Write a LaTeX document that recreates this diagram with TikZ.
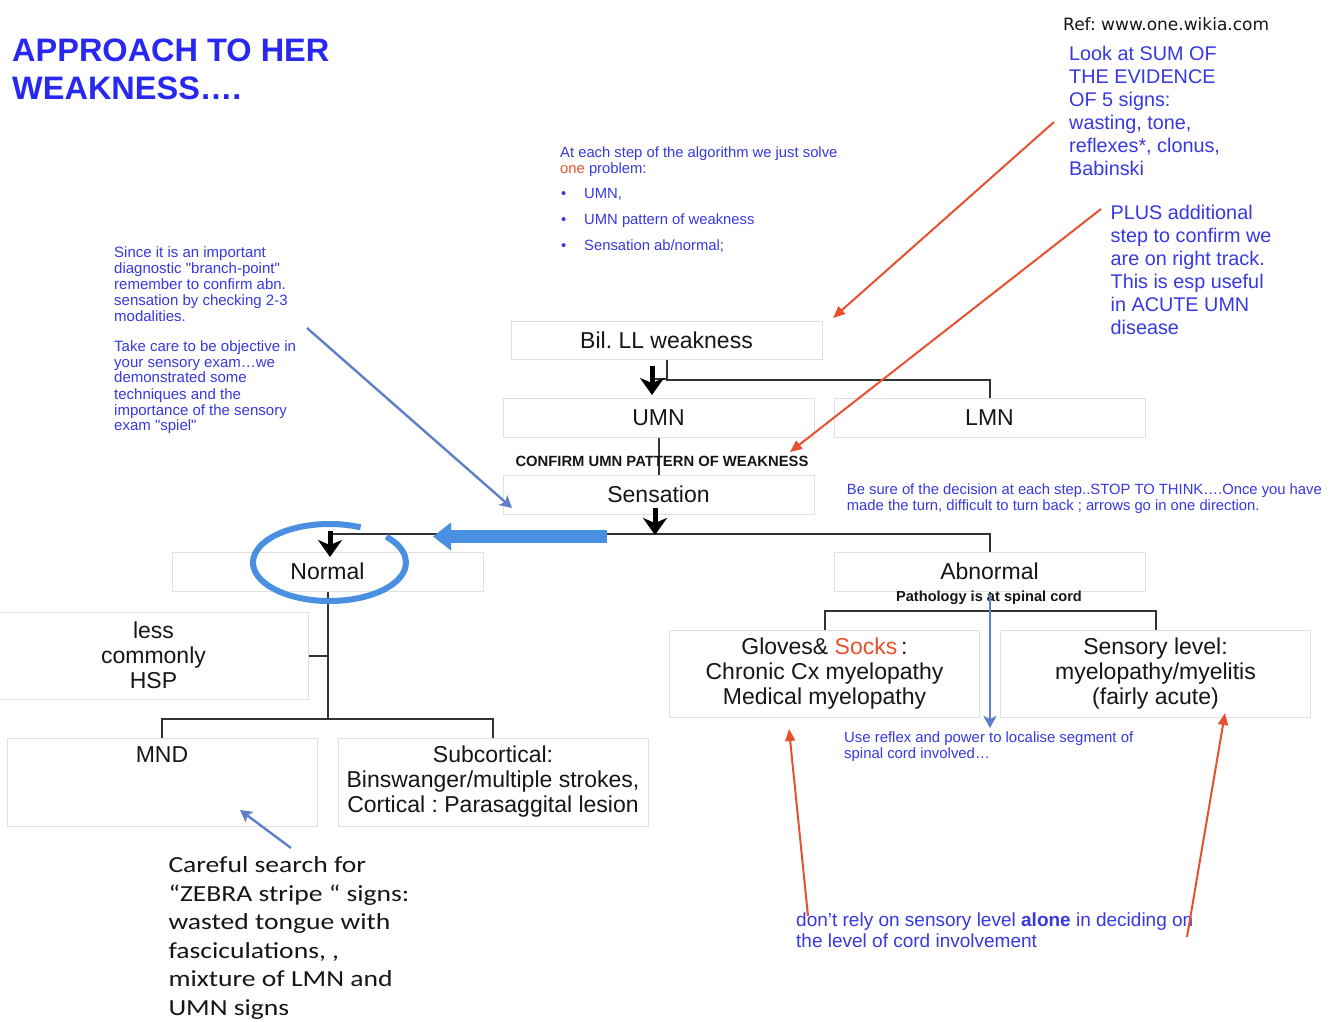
\documentclass[tikz,border=0pt]{standalone}
\usepackage{fontspec}
\setmainfont{Liberation Sans}
\newfontfamily\dejavu{DejaVu Sans}
\newfontfamily\carl[FakeStretch=1.2]{Carlito}
\usetikzlibrary{arrows.meta}
\definecolor{titleblue}{HTML}{2828F0}
\definecolor{noteblue}{HTML}{3838E2}
\definecolor{redc}{HTML}{E8512F}
\definecolor{steel}{HTML}{5F80C8}
\definecolor{bright}{HTML}{4A90E2}
\definecolor{boxgray}{HTML}{E0E0E0}
\definecolor{linec}{HTML}{333333}
\definecolor{ink}{HTML}{161616}
\newcommand\fs[2]{\fontsize{#1}{#2}\selectfont}
\newcommand\vl[2]{\vtop{\baselineskip=#1\relax\lineskip=0pt\lineskiplimit=-50pt\halign{##\hfil\cr#2\crcr}}}
\newcommand\bul{\hbox to 24pt{\hskip1pt•\hfil}}
\frenchspacing
\begin{document}
\begin{tikzpicture}[x=1pt,y=-1pt,
  box/.style={draw=boxgray, line width=1pt, rectangle, inner sep=0pt, align=center, font=\fs{23}{25}, text=ink},
  conn/.style={draw=linec, line width=2pt},
  bigdown/.style={draw=black, line width=5pt, -{Stealth[length=17pt,width=24pt,inset=5pt]}},
  redarr/.style={draw=redc, line width=2pt, -{Triangle[length=12pt,width=10pt]}},
  steelarr/.style={draw=steel, line width=2.4pt, -{Stealth[length=12pt,width=13pt,inset=3pt]}},
  txt/.style={inner sep=0pt, anchor=base west},
]
\useasboundingbox (0,0) rectangle (1334,1022);
\fill[white] (0,0) rectangle (1334,1022);

% boxes
\node[box, minimum width=311pt, minimum height=38pt] (bil) at (666.5,340) {Bil. LL weakness};
\node[box, minimum width=311pt, minimum height=39pt] (umn) at (658.5,417.5) {UMN};
\node[box, minimum width=311pt, minimum height=39pt] (lmn) at (989.5,417.5) {LMN};
\node[box, minimum width=311pt, minimum height=39pt] (sens) at (658.5,494.5) {Sensation};
\node[box, minimum width=311pt, minimum height=39pt] (norm) at (327.5,571.5) {Normal};
\node[box, minimum width=311pt, minimum height=39pt] (abn) at (989.5,571.5) {Abnormal};
\node[box, minimum width=309pt, minimum height=87pt] (hsp) at (153.5,655.5) {less\\commonly\\HSP};
\node[box, minimum width=310pt, minimum height=88pt] (mnd) at (162,782) {};
\node[box, minimum width=310pt, minimum height=88pt] (sub) at (493,782) {Subcortical:\\Binswanger/multiple strokes,\\Cortical : Parasaggital lesion};
\node[box, minimum width=310pt, minimum height=87pt] (glove) at (824.5,673.5) {Gloves\& \textcolor{redc}{Socks}\,:\\Chronic Cx myelopathy\\Medical myelopathy};
\node[box, minimum width=310pt, minimum height=87pt] (slevel) at (1155.5,673.5) {Sensory level:\\myelopathy/myelitis\\(fairly acute)};
\node[font=\fs{23}{25}, text=ink, inner sep=0pt] (mndt) at (162,755) {MND};

% connectors
\draw[conn] (bil.south) -- ++(0,20) -| (lmn.north);
\coordinate (j1) at (652,379);
\draw[conn] (j1) -- (bil.south |- j1);
\coordinate (a1s) at (652,366);
\coordinate (a1e) at (652,395);
\draw[bigdown] (a1s) -- (a1e);
\draw[conn] (umn.south) -- (sens.north);
\coordinate (hj) at (330,534);
\draw[conn] (hj) -| (abn.north);
\coordinate (a2s) at (655,508);
\coordinate (a2e) at (655,535);
\draw[bigdown] (a2s) -- (a2e);
\coordinate (a3s) at (330,531);
\coordinate (a3e) at (330,557);
\draw[bigdown] (a3s) -- (a3e);
\draw[conn] (norm.south) -- ++(0,128);
\draw[conn] (hsp.east) -- (hsp.east -| norm.south);
\draw[conn] (mnd.north) -- ++(0,-19) -| (sub.north);
\draw[conn] (abn.south) -- ++(0,19.5);
\draw[conn] (glove.north) -- ++(0,-18.5) -| (slevel.north);

% blue highlight ellipse and arrow
\coordinate (ellc) at (329.5,562.5);
\draw[bright, line width=6pt] (ellc) ++(-66:76.5 and 38.5) arc[start angle=-66, end angle=-402, x radius=76.5, y radius=38.5];
\coordinate (ba1) at (607,536.5);
\coordinate (ba2) at (433,536.5);
\draw[bright, line width=13pt, -{Triangle[length=18pt,width=27pt]}] (ba1) -- (ba2);

% texts
\node[txt, font=\bfseries\fs{32.5}{38}, text=titleblue] (title) at (12,62) {\vl{38pt}{APPROACH TO HER\cr WEAKNESS….}};
\node[txt, font=\dejavu\fs{17}{20}, text=ink] (ref) at (1063,30.5) {Ref: www.one.wikia.com};
\node[txt, font=\fs{19.8}{23}, text=noteblue] (note1) at (1069,60.7) {\vl{22.9pt}{Look at SUM OF\cr THE EVIDENCE\cr OF 5 signs:\cr wasting, tone,\cr reflexes*, clonus,\cr Babinski}};
\node[txt, font=\fs{19.8}{23}, text=noteblue] (note2) at (1110.5,219.3) {\vl{23.1pt}{PLUS additional\cr step to confirm we\cr are on right track.\cr This is esp useful\cr in ACUTE UMN\cr disease}};
\node[txt, font=\fs{14.8}{16}, text=noteblue] (topnote) at (560,157.3) {\vl{16pt}{At each step of the algorithm we just solve\cr \textcolor{redc}{one} problem:\cr\noalign{\vskip9pt}\bul UMN,\cr\noalign{\vskip10pt}\bul UMN pattern of weakness\cr\noalign{\vskip10pt}\bul Sensation ab/normal;}};
\node[txt, font=\fs{15}{16}, text=noteblue] (leftnote) at (114,257.3) {\vl{16pt}{Since it is an important\cr diagnostic \textquotedbl branch-point\textquotedbl\cr remember to confirm abn.\cr sensation by checking 2-3\cr modalities.\cr\noalign{\vskip13.7pt}Take care to be objective in\cr your sensory exam…we\cr demonstrated some\cr techniques and the\cr importance of the sensory\cr exam \textquotedbl spiel\textquotedbl}};
\node[font=\bfseries\fs{14.8}{16}, text=ink, inner sep=0pt, anchor=base] (confirm) at (662,466) {CONFIRM UMN PATTERN OF WEAKNESS};
\node[font=\bfseries\fs{14.6}{16}, text=ink, inner sep=0pt, anchor=base] (patho) at (989,601) {Pathology is at spinal cord};
\node[txt, font=\fs{14.8}{16}, text=noteblue] (besure) at (846.7,494) {\vl{16pt}{Be sure of the decision at each step..STOP TO THINK….Once you have\cr made the turn, difficult to turn back ; arrows go in one direction.}};
\node[txt, font=\fs{14.9}{16}, text=noteblue] (reflex) at (844,742) {\vl{16pt}{Use reflex and power to localise segment of\cr spinal cord involved…}};
\node[txt, font=\fs{19}{20}, text=noteblue] (dont) at (796,926.7) {\vl{20.5pt}{don’t rely on sensory level \textbf{alone} in deciding on\cr the level of cord involvement}};
\node[txt, font=\carl\fs{23}{28}, text=ink] (zebra) at (168.3,872.7) {\vl{28.5pt}{Careful search for\cr “ZEBRA stripe “ signs:\cr wasted tongue with\cr fasciculations, ,\cr mixture of LMN and\cr UMN signs}};

% red pointers
\coordinate (r1s) at (1054,122); \coordinate (r1e) at (833,318);
\draw[redarr] (r1s) -- (r1e);
\coordinate (r2s) at (1101,209); \coordinate (r2e) at (790,452);
\draw[redarr] (r2s) -- (r2e);
\coordinate (r3s) at (808,916); \coordinate (r3e) at (789,729);
\draw[redarr] (r3s) -- (r3e);
\coordinate (r4s) at (1187,937); \coordinate (r4e) at (1225,713);
\draw[redarr] (r4s) -- (r4e);

% steel pointers
\coordinate (s1s) at (307,328); \coordinate (s1e) at (512,508);
\draw[steelarr] (s1s) -- (s1e);
\coordinate (s2s) at (291,848); \coordinate (s2e) at (240,810);
\draw[steelarr] (s2s) -- (s2e);
\coordinate (s3s) at (990,594); \coordinate (s3e) at (990,728);
\draw[steelarr] (s3s) -- (s3e);
\end{tikzpicture}
\end{document}
